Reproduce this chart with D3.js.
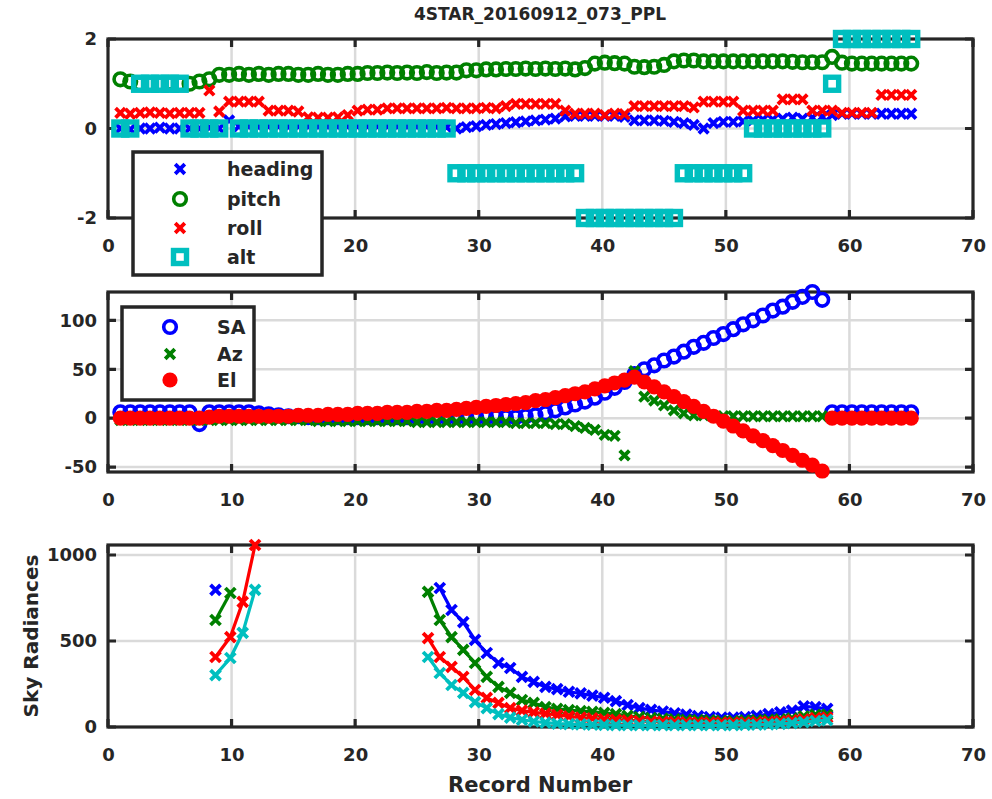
<!DOCTYPE html>
<html lang="en">
<head>
<meta charset="utf-8">
<script src="https://cdn.jsdelivr.net/npm/d3@7"></script>
<title>4STAR PPL</title>
<style>
    body { margin: 0; background: #fff; }
    text { font-family: "DejaVu Sans", Verdana, sans-serif; font-weight: bold; fill: #262626; }
    .tick text { font-size: 18px; }
    .legend text { font-size: 19px; }
</style>
</head>
<body>
<svg width="992" height="799" id="plot"></svg>
<script>
// ---- data ----
const xTicks = [0, 10, 20, 30, 40, 50, 60, 70]

// record numbers of the attitude / angle samples
const records = [
    1, 1.8, 2.6, 3.4, 4.2, 5, 5.8, 6.6, 7.4, 8.2,
    9, 9.8, 10.6, 11.4, 12.2, 13, 13.8, 14.6, 15.4, 16.2,
    17, 17.8, 18.6, 19.4, 20.2, 21, 21.8, 22.6, 23.4, 24.2,
    25, 25.8, 26.6, 27.4, 28.2, 29, 29.8, 30.6, 31.4, 32.2,
    33, 33.8, 34.6, 35.4, 36.2, 37, 37.8, 38.6, 39.4, 40.2,
    41, 41.8, 42.6, 43.4, 44.2, 45, 45.8, 46.6, 47.4, 48.2,
    49, 49.8, 50.6, 51.4, 52.2, 53, 53.8, 54.6, 55.4, 56.2,
    57, 57.8, 58.6, 59.4, 60.2, 61, 61.8, 62.6, 63.4, 64.2,
    65]

// top panel
const heading = [
    0, -0.02, 0, 0, 0.02, 0, 0, 0, 0, 0.02,
    0, 0.18, 0.05, 0.05, 0.04, 0.05, 0.05, 0.04, 0.05, 0.05,
    0.05, 0.05, 0.05, 0.05, 0.05, 0.05, 0.05, 0.05, 0.05, 0.05,
    0.05, 0.05, 0.04, 0.03, 0, 0.03, 0.05, 0.08, 0.1, 0.12,
    0.14, 0.16, 0.18, 0.2, 0.22, 0.27, 0.28, 0.28, 0.28, 0.28,
    0.28, 0.26, 0.18, 0.18, 0.18, 0.17, 0.15, 0.12, 0.08, 0,
    0.12, 0.15, 0.15, 0.16, 0.18, 0.2, 0.2, 0.22, 0.24, 0.22,
    0.24, 0.26, 0.3, 0.33, 0.33, 0.33, 0.33, 0.33, 0.33, 0.33,
    0.33]
const pitch = [
    1.1, 1.05, 1.0, 1.0, 1.0, 1.02, 1.0, 1.0, 1.05, 1.1,
    1.2, 1.2, 1.22, 1.2, 1.22, 1.2, 1.22, 1.22, 1.2, 1.2,
    1.22, 1.2, 1.2, 1.22, 1.22, 1.24, 1.24, 1.25, 1.24, 1.25,
    1.24, 1.26, 1.24, 1.25, 1.25, 1.3, 1.3, 1.32, 1.32, 1.33,
    1.33, 1.34, 1.33, 1.34, 1.33, 1.34, 1.32, 1.35, 1.45, 1.47,
    1.46, 1.45, 1.38, 1.37, 1.38, 1.42, 1.5, 1.52, 1.52, 1.5,
    1.5, 1.5, 1.5, 1.5, 1.5, 1.5, 1.5, 1.5, 1.49, 1.48,
    1.48, 1.48, 1.6, 1.47, 1.45, 1.45, 1.45, 1.45, 1.45, 1.45,
    1.45]
const roll = [
    0.35, 0.33, 0.35, 0.36, 0.35, 0.34, 0.35, 0.35, 0.35, 0.85,
    0.38, 0.6, 0.6, 0.6, 0.6, 0.4, 0.4, 0.4, 0.38, 0.25,
    0.24, 0.24, 0.25, 0.3, 0.4, 0.42, 0.42, 0.45, 0.45, 0.45,
    0.45, 0.45, 0.45, 0.46, 0.45, 0.45, 0.45, 0.46, 0.45, 0.5,
    0.55, 0.55, 0.55, 0.55, 0.55, 0.4, 0.33, 0.33, 0.33, 0.3,
    0.33, 0.32, 0.5, 0.5, 0.5, 0.5, 0.5, 0.5, 0.47, 0.6,
    0.6, 0.6, 0.6, 0.4, 0.4, 0.4, 0.4, 0.65, 0.65, 0.65,
    0.4, 0.4, 0.4, 0.35, 0.35, 0.35, 0.35, 0.75, 0.75, 0.75,
    0.75]
const alt = [
    0, 0, 1, 1, 1, 1, 1, 0, 0, 0,
    0, null, 0, 0, 0, 0, 0, 0, 0, 0,
    0, 0, 0, 0, 0, 0, 0, 0, 0, 0,
    0, 0, 0, 0, -1, -1, -1, -1, -1, -1,
    -1, -1, -1, -1, -1, -1, -1, -2, -2, -2,
    -2, -2, -2, -2, -2, -2, -2, -1, -1, -1,
    -1, -1, -1, -1, 0, 0, 0, 0, 0, 0,
    0, 0, 1, 2, 2, 2, 2, 2, 2, 2,
    2]

// middle panel
const SA = [
    6, 6, 6, 6, 6, 6, 6, 6, -6, 6,
    6, 6, 6, 6, 5, 4, 3, 2, 2, 1,
    1, 1, 1, 1, 1, 1, 1, 1, 1, 1,
    1, 1, 1, 1, 1, 1, 1, 1, 1, 1,
    1, 2, 3, 5, 8, 11, 14, 17, 21, 26,
    31, 37, 45, 50, 54, 59, 63, 68, 73, 77,
    82, 86, 91, 96, 100, 105, 110, 114, 119, 124,
    129, 121, 6, 6, 6, 6, 6, 6, 6, 6,
    6]
const Az = [
    -2, -2, -2, -2, -2, -2, -2, -2, -2, -2,
    -2, -2, -2, -2, -2, -2, -2, -2, -2, -2,
    -3, -3, -3, -3, -3, -3, -3, -3, -3, -3,
    -4, -4, -4, -4, -4, -4, -4, -4, -4, -4,
    -5, -5, -5, -5, -6, -6, -8, -10, -12, -17,
    -18, -38, 48, 22, 18, 13, 8, 5, 3, 3,
    2, 2, 2, 2, 2, 2, 2, 2, 2, 2,
    2, 2, 0, 0, 0, 0, 0, 0, 0, 0,
    0]
const El = [
    0, 0, 0, 0, 0, 0, 0, 0, 0, 1,
    2, 2, 2, 2, 2, 2, 2, 2, 3, 3,
    3, 4, 4, 4, 5, 5, 5, 6, 6, 6,
    7, 7, 8, 8, 9, 10, 11, 12, 13, 14,
    15, 16, 18, 19, 21, 23, 25, 27, 30, 33,
    36, 39, 42, 37, 32, 27, 22, 17, 12, 7,
    2, -3, -8, -13, -18, -23, -28, -33, -38, -43,
    -48, -54, 0, 0, 0, 0, 0, 0, 0, 0,
    0]

// bottom panel: sky radiances, two scans
const skyRecordA = [8.7, 9.9, 10.9, 11.9]
const skyRecordB = [
    25.9, 26.85, 27.8, 28.75, 29.7, 30.65, 31.6, 32.55, 33.5, 34.45,
    35.4, 36.35, 37.3, 38.25, 39.2, 40.15, 41.1, 42.05, 43, 43.95,
    44.9, 45.85, 46.8, 47.75, 48.7, 49.65, 50.6, 51.55, 52.5, 53.45,
    54.4, 55.35, 56.3, 57.25, 58.2]
const sky1A = [797, null, null, null]
const sky2A = [622, 779, null, null]
const sky3A = [407, 523, 727, 1058]
const sky4A = [302, 401, 547, 797]
const sky1B = [
    null, 808, 680, 610, 506, 430, 372, 343, 291, 262,
    233, 220, 205, 195, 182, 170, 150, 128, 110, 100,
    90, 80, 72, 63, 58, 55, 55, 58, 65, 75,
    85, 95, 120, 115, 105]
const sky2B = [
    785, 622, 523, 448, 372, 291, 233, 198, 157, 140,
    116, 105, 98, 92, 88, 82, 75, 65, 58, 52,
    48, 45, 42, 40, 38, 36, 36, 38, 40, 42,
    45, 50, 62, 70, 72]
const sky3B = [
    517, 407, 349, 291, 215, 169, 140, 110, 95, 85,
    78, 70, 62, 55, 50, 45, 42, 38, 35, 32,
    30, 28, 27, 26, 25, 25, 25, 26, 28, 30,
    33, 38, 45, 52, 55]
const sky4B = [
    407, 314, 244, 198, 145, 110, 75, 55, 42, 32,
    25, 20, 17, 15, 13, 12, 11, 10, 10, 10,
    10, 10, 10, 10, 10, 10, 11, 12, 13, 15,
    18, 22, 28, 35, 40]

const BLUE = "#0000ff", GREEN = "#008000", RED = "#ff0000", CYAN = "#00bfbf"
const FRAME = "#262626", GRID = "#dadada"

let svg = d3.select("#plot")

const left = 108, right = 973
const scaleX = d3.scaleLinear().domain([0, 70]).range([left, right])

// marker helpers
function crossPath(r) {
    return `M${-r},${-r}L${r},${r}M${-r},${r}L${r},${-r}`
}

function pairs(xs, ys) {
    const out = []
    xs.forEach((v, i) => { if (ys[i] !== null) out.push([v, ys[i]]) })
    return out
}

// draw one marker shape into a group already placed at its centre
function marker(m, kind, color) {
    if (kind === "x") m.append("path").attr("d", crossPath(4.8))
        .attr("stroke", color).attr("stroke-width", 3.8).attr("fill", "none")
    if (kind === "o") m.append("circle").attr("r", 6.3)
        .attr("stroke", color).attr("stroke-width", 3.6).attr("fill", "none")
    if (kind === "dot") m.append("circle").attr("r", 7.6).attr("fill", color)
    if (kind === "s") m.append("rect").attr("x", -6.5).attr("y", -6.5)
        .attr("width", 13).attr("height", 13)
        .attr("stroke", color).attr("stroke-width", 5.4).attr("fill", "none")
}

function drawMarkers(g, y, pts, kind, color) {
    g.append("g").selectAll("m").data(pts).enter().append("g")
        .attr("transform", d => `translate(${scaleX(d[0])},${y(d[1])})`)
        .each(function() { marker(d3.select(this), kind, color) })
}

function makePanel(top, bottom, yDomain, yTicks, hiddenX) {
    const g = svg.append("g")
    const y = d3.scaleLinear().domain(yDomain).range([bottom, top])

    // grid
    g.selectAll("gx").data(xTicks.slice(1, -1)).enter().append("line")
        .attr("x1", d => scaleX(d)).attr("x2", d => scaleX(d))
        .attr("y1", top).attr("y2", bottom)
        .attr("stroke", GRID).attr("stroke-width", 2.5)
    g.selectAll("gy").data(yTicks.filter(t => y(t) > top + 2 && y(t) < bottom - 2)).enter().append("line")
        .attr("x1", left).attr("x2", right)
        .attr("y1", d => y(d)).attr("y2", d => y(d))
        .attr("stroke", GRID).attr("stroke-width", 2.5)

    // frame
    g.append("rect")
        .attr("x", left).attr("y", top)
        .attr("width", right - left).attr("height", bottom - top)
        .attr("fill", "none").attr("stroke", FRAME).attr("stroke-width", 3.2)

    // inward tick marks on all four sides
    const tl = 8
    g.selectAll("tb").data(xTicks).enter().append("path")
        .attr("d", d => `M${scaleX(d)},${bottom}v${-tl}M${scaleX(d)},${top}v${tl}`)
        .attr("stroke", FRAME).attr("stroke-width", 3.2)
    g.selectAll("tl").data(yTicks).enter().append("path")
        .attr("d", d => `M${left},${y(d)}h${tl}M${right},${y(d)}h${-tl}`)
        .attr("stroke", FRAME).attr("stroke-width", 3.2)

    // tick labels (a label that sits under a legend box is not drawn)
    g.append("g").attr("transform", `translate(0,${bottom})`)
        .call(d3.axisBottom(scaleX).tickValues(xTicks.filter(t => !hiddenX.includes(t)))
            .tickFormat(d => String(d)).tickSize(0).tickPadding(21))
        .call(a => a.select(".domain").remove())
    g.append("g").attr("transform", `translate(${left},0)`)
        .call(d3.axisLeft(y).tickValues(yTicks).tickFormat(d => String(d)).tickSize(0).tickPadding(11))
        .call(a => a.select(".domain").remove())

    return { g, y }
}

function legend(x0, y0, w, h, items, markX, textX, rowY) {
    const lg = svg.append("g").attr("class", "legend")
    lg.append("rect").attr("x", x0).attr("y", y0).attr("width", w).attr("height", h)
        .attr("fill", "#fff").attr("stroke", FRAME).attr("stroke-width", 3.5)
    items.forEach((it, i) => {
        const cy = rowY[i]
        marker(lg.append("g").attr("transform", `translate(${markX},${cy})`), it.kind, it.color)
        lg.append("text").text(it.name).attr("x", textX).attr("y", cy + 6.5)
    })
}

// title
svg.append("text").text("4STAR_20160912_073_PPL")
    .attr("x", 540).attr("y", 20).attr("text-anchor", "middle")
    .style("font-size", "17px")

// ---- top panel ----
const p1 = makePanel(39, 218, [-2, 2], [-2, 0, 2], [10])
drawMarkers(p1.g, p1.y, pairs(records, heading), "x", BLUE)
drawMarkers(p1.g, p1.y, pairs(records, pitch), "o", GREEN)
drawMarkers(p1.g, p1.y, pairs(records, roll), "x", RED)
drawMarkers(p1.g, p1.y, pairs(records, alt), "s", CYAN)
legend(133, 152, 189, 123, [
    { name: "heading", kind: "x", color: BLUE },
    { name: "pitch", kind: "o", color: GREEN },
    { name: "roll", kind: "x", color: RED },
    { name: "alt", kind: "s", color: CYAN }
], 180, 227, [169, 199, 228, 257])

// ---- middle panel ----
const p2 = makePanel(292, 472, [-55, 129], [-50, 0, 50, 100], [])
drawMarkers(p2.g, p2.y, pairs(records, SA), "o", BLUE)
drawMarkers(p2.g, p2.y, pairs(records, Az), "x", GREEN)
drawMarkers(p2.g, p2.y, pairs(records, El), "dot", RED)
legend(122, 307, 132, 93, [
    { name: "SA", kind: "o", color: BLUE },
    { name: "Az", kind: "x", color: GREEN },
    { name: "El", kind: "dot", color: RED }
], 170, 217, [327, 354, 380])

// ---- bottom panel ----
const p3 = makePanel(545, 727, [0, 1058], [0, 500, 1000], [])
const skySets = [
    [sky1A, sky1B, BLUE], [sky2A, sky2B, GREEN], [sky3A, sky3B, RED], [sky4A, sky4B, CYAN]
]
skySets.forEach(s => {
    [[skyRecordA, s[0]], [skyRecordB, s[1]]].forEach(seg => {
        const pts = pairs(seg[0], seg[1])
        p3.g.append("path").datum(pts)
            .attr("fill", "none").attr("stroke", s[2]).attr("stroke-width", 3.2)
            .attr("d", d3.line().x(d => scaleX(d[0])).y(d => p3.y(d[1])))
        p3.g.append("g").selectAll("m").data(pts).enter().append("path")
            .attr("d", crossPath(5))
            .attr("transform", d => `translate(${scaleX(d[0])},${p3.y(d[1])})`)
            .attr("stroke", s[2]).attr("stroke-width", 3.8).attr("fill", "none")
    })
})

// axis labels
svg.append("text").text("Record Number")
    .attr("x", 540).attr("y", 792).attr("text-anchor", "middle")
    .style("font-size", "21px")
svg.append("text").text("Sky Radiances")
    .attr("transform", "translate(38,636) rotate(-90)").attr("text-anchor", "middle")
    .style("font-size", "20px")
</script>
</body>
</html>
